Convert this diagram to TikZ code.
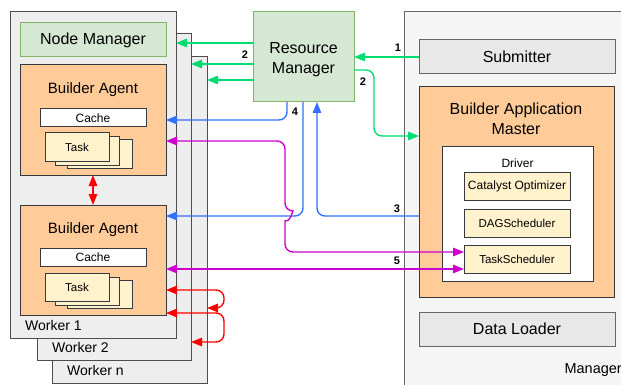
\documentclass[tikz,border=0pt]{standalone}
\usepackage{fontspec}
\setmainfont{Liberation Sans}
\usetikzlibrary{arrows.meta}

\definecolor{nmfill}{HTML}{D5E8D4}
\definecolor{nmline}{HTML}{82B366}
\definecolor{agfill}{HTML}{FFCC99}
\definecolor{tkfill}{HTML}{FFF2CC}
\definecolor{dark}{HTML}{36393D}
\definecolor{wkfill}{HTML}{EEEEEE}
\definecolor{wkline}{HTML}{4D4D4D}
\definecolor{mgfill}{HTML}{F5F5F5}
\definecolor{mgline}{HTML}{666666}
\definecolor{gyfill}{HTML}{E8E8E8}
\definecolor{cgreen}{HTML}{00DD70}
\definecolor{cblue}{HTML}{3370FF}
\definecolor{cmag}{HTML}{CC00CC}
\definecolor{cred}{HTML}{FF0000}

% box: name, style, left, top, width, height, text
\newcommand{\mkbox}[7]{\node[#2, minimum width=#5pt, minimum height=#6pt] (#1) at ({#3+#5/2},{#4+#6/2}) {#7};}

\tikzset{
  blk/.tip={Triangle[length=11pt, width=8.5pt]},
  base/.style={inner sep=0pt, outer sep=0pt, line width=1pt},
  worker/.style={base, draw=wkline, fill=wkfill},
  green box/.style={base, draw=nmline, fill=nmfill, font=\fontsize{16pt}{20pt}\selectfont, align=center},
  agent/.style={base, draw=dark, fill=agfill},
  cachebox/.style={base, draw=dark, fill=white, font=\fontsize{12pt}{14pt}\selectfont},
  card/.style={base, draw=dark, fill=tkfill, font=\fontsize{11.5pt}{14pt}\selectfont},
  graybox/.style={base, draw=mgline, fill=gyfill, font=\fontsize{16pt}{19pt}\selectfont},
  title/.style={inner sep=0pt, font=\fontsize{15pt}{19pt}\selectfont, align=center},
  wlabel/.style={inner sep=0pt, anchor=west, font=\fontsize{14pt}{17pt}\selectfont},
  num/.style={inner sep=0pt, font=\fontsize{11pt}{13pt}\selectfont\bfseries},
  conn/.style={line width=1.4pt, rounded corners=8pt},
  garrow/.style={conn, draw=cgreen, -{blk}},
  barrow/.style={conn, draw=cblue, -{blk}},
  marrow/.style={conn, draw=cmag, {blk}-{blk}},
  rarrow/.style={conn, draw=cred, {blk}-{blk}},
}

\begin{document}
\begin{tikzpicture}[x=1pt, y=-1pt]
\useasboundingbox (0,0) rectangle (621,385);
\clip (0,0) rectangle (621,385);

% manager side
\draw[base, draw=mgline, fill=mgfill] (404,12) rectangle (640,400);
\node[inner sep=0pt, anchor=east, font=\fontsize{14.5pt}{17pt}\selectfont] (mgr) at (622,370) {Manager};
\mkbox{sub}{graybox}{419}{40}{196}{34}{Submitter}
\mkbox{bam}{agent}{419}{87}{195}{210}{}
\node[title, font=\fontsize{16pt}{20pt}\selectfont] (bamt) at (516,119) {Builder Application\\Master};
\mkbox{drv}{base, draw=dark, fill=white}{442}{147}{151}{134}{}
\node[inner sep=0pt, font=\fontsize{12pt}{14pt}\selectfont] (drvt) at (517.5,163) {Driver};
\mkbox{cat}{card, font=\fontsize{12pt}{14pt}\selectfont}{464}{172}{106}{28}{Catalyst Optimizer}
\mkbox{dag}{card}{464}{209}{106}{28}{DAGScheduler}
\mkbox{ts}{card}{464}{245}{106}{28}{TaskScheduler}
\mkbox{dl}{graybox}{419}{312}{196}{34}{Data Loader}

% workers, back to front
\mkbox{wn}{worker}{52}{57}{155}{326}{}
\node[wlabel] (wnt) at (67,370) {Worker n};
\mkbox{w2}{worker}{37}{34}{154}{326}{}
\node[wlabel] (w2t) at (52,347) {Worker 2};
\mkbox{w1}{worker}{10}{12}{166}{326}{}
\node[wlabel] (w1t) at (25,325) {Worker 1};

\mkbox{nm}{green box}{20}{23}{146}{34}{Node Manager}

\mkbox{ba1}{agent}{20}{65}{146}{110}{}
\node[title] (ba1t) at (93,90) {Builder Agent};
\mkbox{c1}{cachebox}{40}{109}{106}{18}{Cache}
\mkbox{t1c}{card}{67}{140}{65}{28}{}
\mkbox{t1b}{card}{55}{137}{64}{28}{}
\mkbox{t1a}{card}{45}{133}{64}{28}{Task}

\mkbox{ba2}{agent}{20}{205}{146}{110}{}
\node[title] (ba2t) at (93,230) {Builder Agent};
\mkbox{c2}{cachebox}{40}{248}{106}{18}{Cache}
\mkbox{t2c}{card}{67}{280}{65}{28}{}
\mkbox{t2b}{card}{55}{277}{64}{28}{}
\mkbox{t2a}{card}{45}{273}{64}{28}{Task}

\mkbox{rm}{green box}{253}{12}{101}{90}{}
\node[title, font=\fontsize{16pt}{20pt}\selectfont] (rmt) at (303.5,59.5) {Resource\\Manager};

% green: resource requests and launches
\coordinate (g1) at ([yshift=14pt]rm.west);
\coordinate (g2) at ([yshift=-7pt]rm.west);
\coordinate (g3) at ([yshift=-23pt]rm.west);
\draw[garrow] (g1) -- (g1 -| w1.east);
\draw[garrow] (g2) -- (g2 -| w2.east);
\draw[garrow] (g3) -- (g3 -| wn.east);
\node[num] (n2a) at (245,55) {2};
\draw[garrow] (sub.west) -- (rm.east);
\node[num] (n1) at (398,48) {1};
\coordinate (g5) at ([yshift=-13pt]rm.east);
\coordinate (g5k) at (374,136);
\draw[garrow] (g5) -| (g5k) -- (g5k -| bam.west);
\node[num] (n2b) at (363,82) {2};

% blue: container allocation and status
\coordinate (b4) at ([xshift=-16.5pt]rm.south);
\coordinate (b4k) at (287,120);
\draw[barrow] (b4) -- (b4k) -- (b4k -| ba1.east);
\node[num] (n4) at (295,112) {4};
\coordinate (b3) at (419,216);
\coordinate (b3k) at (317,216);
\draw[barrow] (b3) -- (b3k) -- (b3k |- rm.south);
\node[num] (n3) at (397,209) {3};
\coordinate (bx) at ([xshift=-0.5pt]rm.south);
\coordinate (bxk) at (303,216);
\draw[barrow] (bx) -- (bxk) -- (bxk -| ba2.east);

% magenta: task dispatch, with a hop over the blue line
\coordinate (m1s) at ([yshift=-21pt]ba1.east);
\coordinate (jtop) at (285,211);
\coordinate (jbot) at (285,221);
\coordinate (m1k) at (285,252);
\draw[marrow] (m1s) -- (m1s -| jtop) -- (jtop) [sharp corners] .. controls (292,211) and (292,221) .. (jbot) [rounded corners=8pt] -- (m1k) -- (m1k -| ts.west);
\coordinate (m2e) at ([yshift=-10pt]ts.west);
\draw[marrow] (m2e) -- (m2e -| ba2.east);
\node[num] (n5) at (397,261) {5};

% red: agent to agent exchange
\draw[rarrow] (ba1.south) -- (ba2.north);
\coordinate (r1s) at (166,290);
\coordinate (r1a) at (224,290);
\coordinate (r1b) at (224,308);
\draw[rarrow] (r1s) -- (r1a) -- (r1b) -- (r1b -| wn.east);
\coordinate (r2s) at (166,313);
\coordinate (r2a) at (224,313);
\coordinate (r2b) at (224,342);
\draw[rarrow] (r2s) -- (r2a) -- (r2b) -- (r2b -| w2.east);
\end{tikzpicture}
\end{document}
